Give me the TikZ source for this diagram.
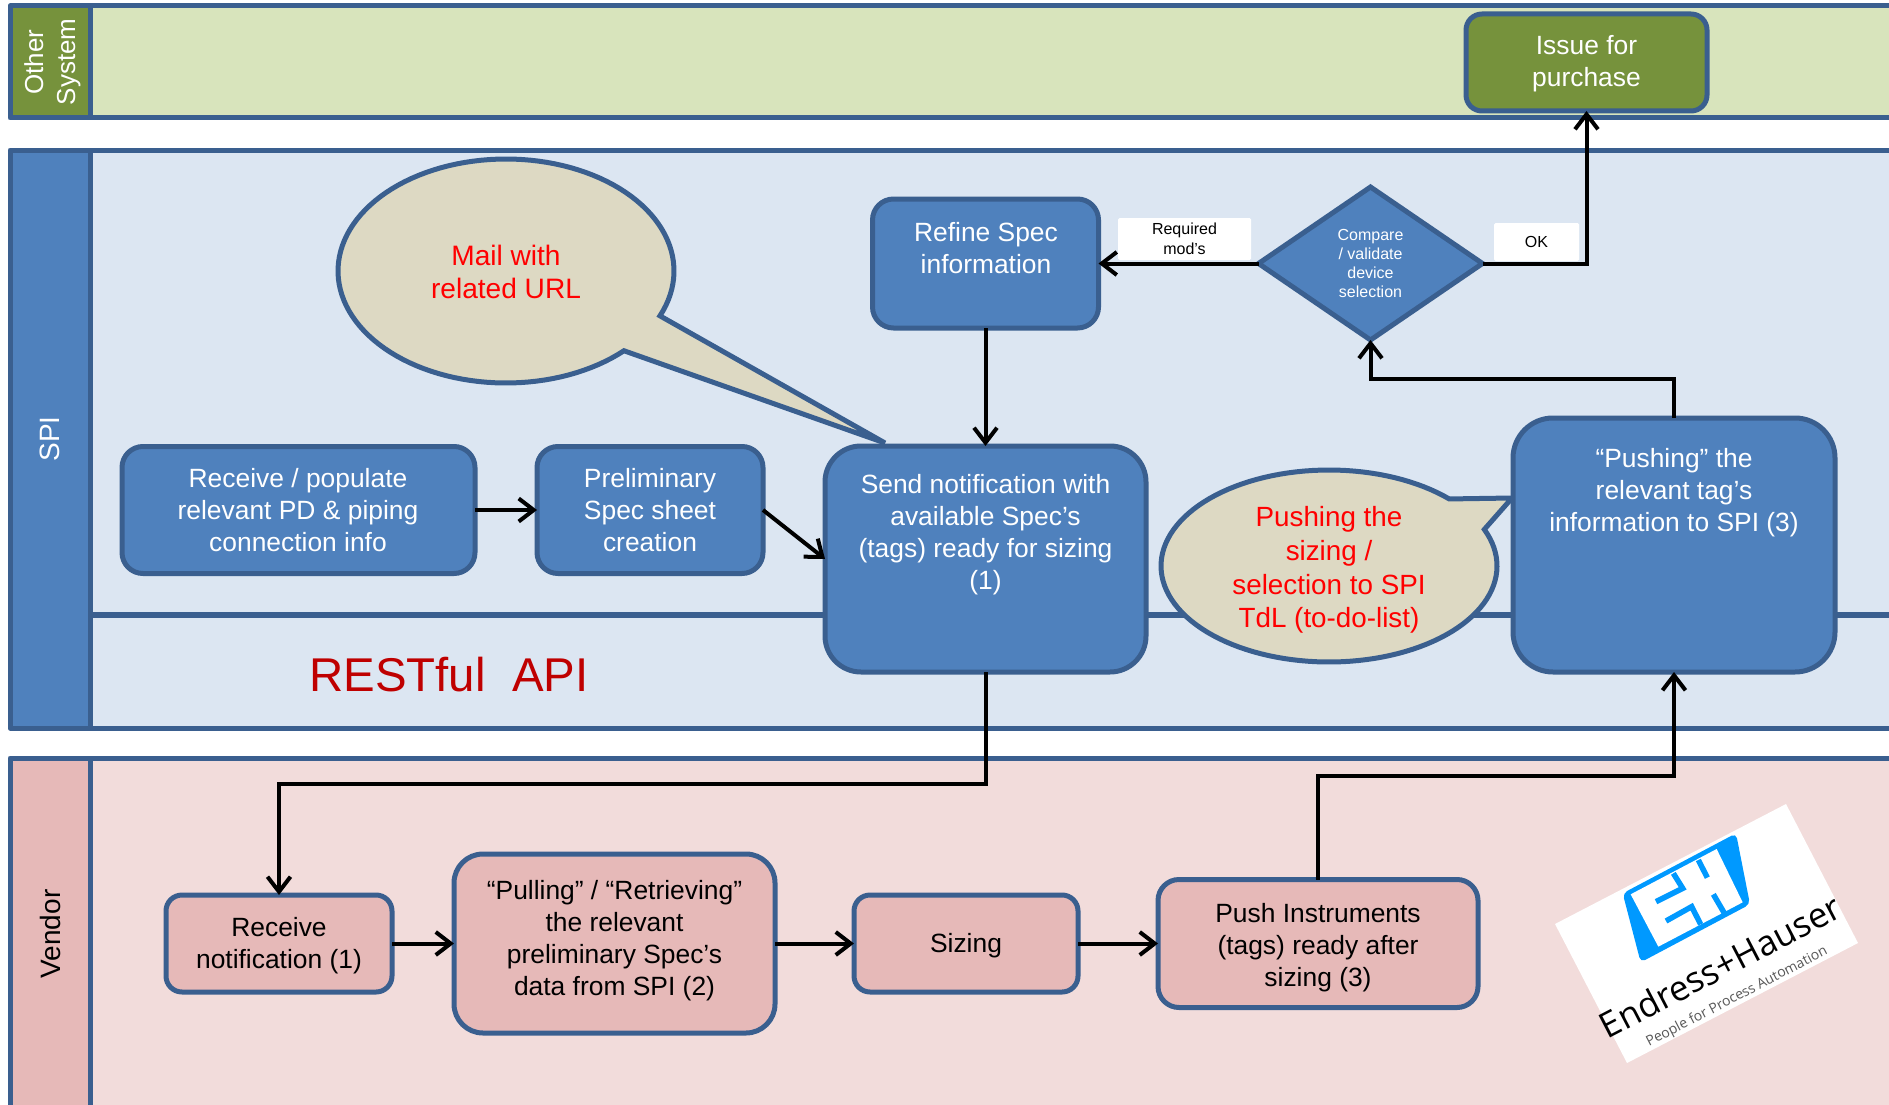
\documentclass[tikz,border=0pt]{standalone}
\usepackage{fontspec}
\setmainfont{Liberation Sans}
\newfontfamily\logofont{Open Sans}
\usetikzlibrary{arrows.meta,shapes.geometric}
\definecolor{lanestroke}{HTML}{3A5F8F}
\definecolor{bluefill}{HTML}{4F81BD}
\definecolor{lightblue}{HTML}{DCE6F2}
\definecolor{lightgreen}{HTML}{D8E4BC}
\definecolor{darkgreen}{HTML}{76923C}
\definecolor{lightpink}{HTML}{F2DCDB}
\definecolor{midpink}{HTML}{E6B9B8}
\definecolor{tan}{HTML}{DDD9C3}
\definecolor{ehblue}{HTML}{0099FF}
\newcommand{\fsz}[2]{\fontsize{#1}{#2}\selectfont}
\tikzset{
  lanebox/.style={draw=lanestroke,line width=5pt,line join=round},
  basebox/.style={draw=lanestroke,line width=5pt,inner sep=0pt,outer sep=0pt,align=center},
  bluebox/.style={basebox,fill=bluefill},
  pinkbox/.style={basebox,fill=midpink},
  whitetext/.style={text=white,align=center,inner sep=0pt,font=\fsz{26.4}{32}},
  blacktext/.style={text=black,align=center,inner sep=0pt,font=\fsz{26.4}{32}},
  arr/.style={draw=black,line width=4pt,-{Straight Barb[length=15pt,width=23pt,line width=4pt]}},
  tagbox/.style={fill=white,rounded corners=1.5pt,inner sep=0pt,align=center,font=\fsz{16}{19.5},text=black},
  calltext/.style={text=red,align=center,inner sep=0pt},
  headtext/.style={rotate=90,text=white,align=center,inner sep=0pt},
}
\begin{document}
\begin{tikzpicture}[x=1pt,y=-1pt]
\useasboundingbox (0,0) rectangle (1889,1105);
\clip (0,0) rectangle (1889,1105);
\fill[white] (0,0) rectangle (1889,1105);
% lanes
\draw[lanebox,fill=lightgreen] (90,6) rectangle (1920,118);
\draw[lanebox,fill=darkgreen] (10,6) rectangle (90,118);
\draw[lanebox,fill=lightblue] (90,150) rectangle (1920,728);
\draw[lanebox,fill=bluefill] (10,150) rectangle (90,728);
\draw[lanebox,fill=lightpink] (90,758) rectangle (1920,1160);
\draw[lanebox,fill=midpink] (10,758) rectangle (90,1160);
\draw[draw=lanestroke,line width=6.5pt] (90,615) -- (1920,615);
\node[headtext,font=\fsz{26}{32}] (hother) at (52.5,62) {Other\\System};
\node[headtext,font=\fsz{28}{32}] (hspi) at (50,439) {SPI};
\node[headtext,text=black,font=\fsz{28}{32}] (hvendor) at (50,934) {Vendor};
% callouts
\draw[basebox,fill=tan,line join=miter]
  plot[domain=45.4:383.6,samples=120] ({506+168*cos(\x)},{271+112*sin(\x)})
  -- (885,443) -- cycle;
\node[calltext,font=\fsz{28.1}{33.7}] (mail) at (506,272) {Mail with\\related URL};
\draw[basebox,fill=tan,line join=miter]
  plot[domain=-22.4:315.7,samples=120] ({1329+168*cos(\x)},{566+96*sin(\x)})
  -- (1512,498) -- cycle;
\node[calltext,font=\fsz{27.8}{33.7}] (pushc) at (1329,570) {Pushing the\\sizing /\\selection to SPI\\TdL (to-do-list)};
\node[text=red!75!black,inner sep=0pt,font=\fsz{47.4}{50}] (rest) at (449,675) {RESTful\ \ API};
% boxes
\node[basebox,fill=darkgreen,rounded corners=16pt,minimum width=241pt,minimum height=97pt] (issue) at (1586.5,62.5) {};
\node[whitetext] (issuet) at (1586.5,63.5) {Issue for\\purchase};
\node[bluebox,rounded corners=21pt,minimum width=226pt,minimum height=129pt] (refine) at (985.5,263.5) {};
\node[whitetext] (refinet) at (986,248) {Refine Spec\\information};
\node[bluebox,rounded corners=21pt,minimum width=353pt,minimum height=127pt] (recv) at (298.5,510) {};
\node[whitetext] (recvt) at (298,510.5) {Receive / populate\\relevant PD \& piping\\connection info};
\node[bluebox,rounded corners=21pt,minimum width=226pt,minimum height=127pt] (prelim) at (650,510) {};
\node[whitetext] (prelimt) at (650,510.5) {Preliminary\\Spec sheet\\creation};
\node[bluebox,rounded corners=36pt,minimum width=321pt,minimum height=226pt] (send) at (985.5,559) {};
\node[whitetext] (sendt) at (985.5,535) {Send notification with\\available Spec’s\\(tags) ready for sizing\\(1)};
\node[bluebox,rounded corners=40pt,minimum width=322pt,minimum height=254pt] (pushtag) at (1674,545) {};
\node[whitetext] (pushtagt) at (1674,493) {“Pushing” the\\relevant tag’s\\information to SPI (3)};
\node[basebox,fill=bluefill,text=white,shape=diamond,aspect=1.43,minimum width=224pt,minimum height=153pt,font=\fsz{16}{19.3}] (dia) at (1370.5,263.5) {Compare\\/ validate\\device\\selection};
\node[tagbox,minimum width=133pt,minimum height=42pt] (req) at (1184.5,239) {Required\\mod’s};
\node[tagbox,minimum width=85pt,minimum height=38pt] (ok) at (1536.5,242) {OK};
\node[pinkbox,rounded corners=16pt,minimum width=226pt,minimum height=97pt] (rn) at (279,943.5) {};
\node[blacktext] (rnt) at (279,945.5) {Receive\\notification (1)};
\node[pinkbox,rounded corners=29pt,minimum width=321pt,minimum height=179pt] (pull) at (614.5,943.5) {};
\node[blacktext] (pullt) at (614.5,941) {“Pulling” / “Retrieving”\\the relevant\\preliminary Spec’s\\data from SPI (2)};
\node[pinkbox,rounded corners=16pt,minimum width=224pt,minimum height=97pt] (sizing) at (966,943.5) {};
\node[blacktext] (sizingt) at (966,946) {Sizing};
\node[pinkbox,rounded corners=21pt,minimum width=320pt,minimum height=128pt] (pushv) at (1318,943.5) {};
\node[blacktext] (pushvt) at (1318,947.5) {Push Instruments\\(tags) ready after\\sizing (3)};
% connector waypoints
\coordinate (c1) at (279,784);
\coordinate (c2) at (1370.5,379);
\coordinate (c3) at (1318,776);
% connectors
\draw[arr] (recv.east) -- (prelim.west);
\draw[arr] (prelim.east) -- (send.west);
\draw[arr] (refine.south) -- (send.north);
\draw[arr] (dia.west) -- (refine.east);
\draw[arr] (dia.east) -| (issue.south);
\draw[arr] (pushtag.north) |- (c2) -- (dia.south);
\draw[arr] (send.south) |- (c1) -- (rn.north);
\draw[arr] (rn.east) -- (pull.west);
\draw[arr] (pull.east) -- (sizing.west);
\draw[arr] (sizing.east) -- (pushv.west);
\draw[arr] (pushv.north) |- (c3) -| (pushtag.south);
% logo
\fill[white] (1786,804) -- (1858,943) -- (1627,1063) -- (1555,924) -- cycle;
\begin{scope}[shift={(1610,825)},x=0.3333pt,y=-0.3333pt]
\fill[ehblue,rounded corners=5pt] (38,205) -- (378,25) -- (420,238) -- (92,412) -- cycle;
\fill[white] (62,208) -- (320,72) -- (398,232) -- (145,365) -- cycle;
\draw[ehblue,line width=5.5pt] (190,145) -- (218,190) -- (138,230);
\draw[ehblue,line width=5.5pt] (168,288) -- (245,245) -- (272,298);
\draw[ehblue,line width=5.5pt] (265,105) -- (292,158);
\draw[ehblue,line width=5.5pt] (310,208) -- (345,268);
\end{scope}
\node[rotate=27.45,inner sep=0pt,font=\logofont\fsz{35}{40},text=black] (ehname) at (1720,966) {Endress+Hauser};
\node[rotate=27.45,inner sep=0pt,font=\logofont\fsz{14}{18},text=black!65] (ehtag) at (1737,997) {People for Process Automation};
\end{tikzpicture}
\end{document}
